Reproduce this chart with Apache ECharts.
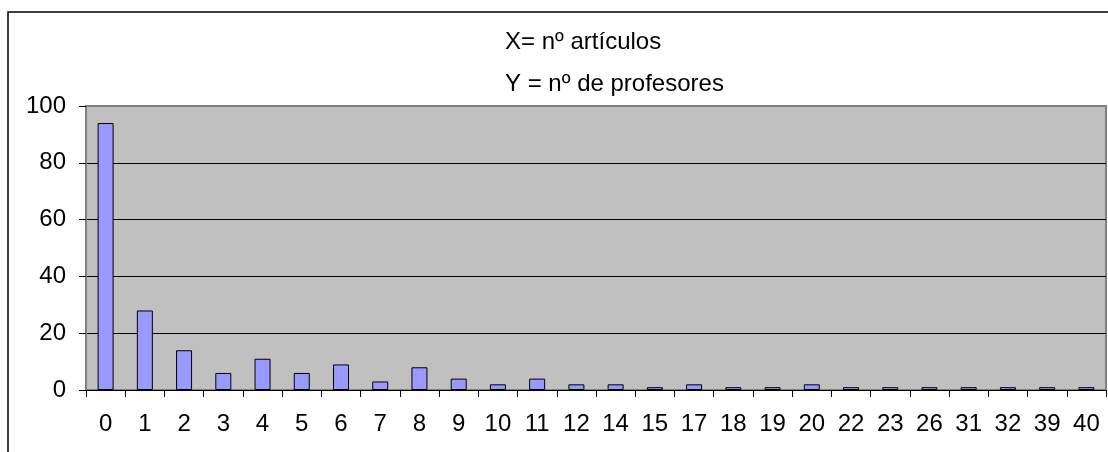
<!DOCTYPE html>
<html>
<head>
<meta charset="utf-8">
<script src="https://cdn.jsdelivr.net/npm/echarts@6/dist/echarts.min.js"></script>
<style>
html,body{margin:0;padding:0;background:#fff;}
#chart{width:1108px;height:452px;}
</style>
</head>
<body>
<div id="chart"></div>
<script>
var categories = ['0','1','2','3','4','5','6','7','8','9','10','11','12','14','15','17','18','19','20','22','23','26','31','32','39','40'];
var profesores = [94,28,14,6,11,6,9,3,8,4,2,4,2,2,1,2,1,1,2,1,1,1,1,1,1,1];
var titleLines = ['X= nº artículos', 'Y = nº de profesores'];
var yTicks = [0,20,40,60,80,100];

var FONT = 'Liberation Sans, Arial, sans-serif';
var chart = echarts.init(document.getElementById('chart'), null, {renderer:'canvas'});
chart.setOption({
  animation: false,
  backgroundColor: '#ffffff',
  title: [
    {text: titleLines[0], left: 505, top: 30, padding: 0,
     textStyle: {fontFamily: FONT, fontSize: 24, fontWeight: 'normal', color: '#000'}},
    {text: titleLines[1], left: 505, top: 72, padding: 0,
     textStyle: {fontFamily: FONT, fontSize: 24, fontWeight: 'normal', color: '#000'}}
  ],
  graphic: [{
    type: 'rect', z: 100,
    shape: {x: 8, y: 12, width: 1300, height: 600},
    style: {fill: 'none', stroke: '#000', lineWidth: 1.5}
  }],
  grid: {
    left: 86, right: 2, top: 106, bottom: 62,
    show: true, backgroundColor: '#c0c0c0', borderColor: '#808080', borderWidth: 2
  },
  xAxis: {
    type: 'category',
    data: categories,
    boundaryGap: true,
    axisLine: {show: true, lineStyle: {color: '#000', width: 1}},
    axisTick: {show: true, length: 7, lineStyle: {color: '#000'}},
    axisLabel: {fontFamily: FONT, fontSize: 24, color: '#000', margin: 22, interval: 0},
    splitLine: {show: false}
  },
  yAxis: {
    type: 'value',
    min: yTicks[0], max: yTicks[yTicks.length-1], interval: 20,
    axisLine: {show: true, lineStyle: {color: '#808080', width: 1}},
    axisTick: {show: true, length: 7, lineStyle: {color: '#000'}},
    axisLabel: {fontFamily: FONT, fontSize: 24, color: '#000', margin: 20},
    splitLine: {show: true, lineStyle: {color: ['#000','#000','#000','#000','#000','#808080'], width: 1}}
  },
  series: [{
    type: 'bar',
    data: profesores,
    barWidth: 16,
    itemStyle: {color: '#9999ff', borderColor: '#000', borderWidth: 1}
  }]
});
</script>
</body>
</html>
